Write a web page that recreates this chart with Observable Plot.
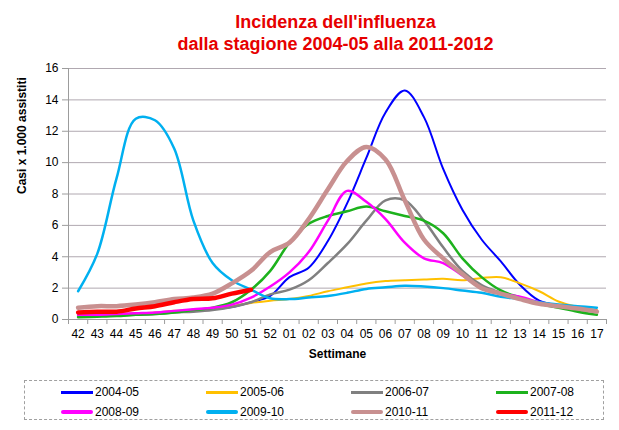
<!DOCTYPE html>
<html>
<head>
<meta charset="utf-8">
<script src="https://cdn.jsdelivr.net/npm/d3@7"></script>
<script src="https://cdn.jsdelivr.net/npm/@observablehq/plot@0.6"></script>
<style>
  html, body { margin: 0; padding: 0; background: #fff; }
  #wrap { position: relative; width: 619px; height: 430px; overflow: hidden; font-family: "Liberation Sans", Arial, sans-serif; }
  #title { position: absolute; top: 11px; left: 52px; right: 0; text-align: center; color: #e60000; font-weight: bold; font-size: 18px; line-height: 22px; }
  #chart { position: absolute; top: 56px; left: 0; }
  #legend { position: absolute; top: 380px; left: 24px; width: 580px; height: 40px; border: 1px dashed #a0a0a0; box-sizing: border-box; }
  .item { position: absolute; height: 14px; display: flex; align-items: center; font-size: 12px; color: #000; }
  .sw { width: 32px; margin-right: 2px; }
</style>
</head>
<body>
<div id="wrap">
  <div id="title">Incidenza dell'influenza<br>dalla stagione 2004-05 alla 2011-2012</div>
  <div id="chart"></div>
  <div id="legend"></div>
</div>
<script>
// Week labels (x categories)
const weeks = ["42","43","44","45","46","47","48","49","50","51","52","01","02","03","04","05","06","07","08","09","10","11","12","13","14","15","16","17"];

// Series values (cases per 1,000)
const s2004_05 = [0.2,0.25,0.3,0.35,0.4,0.5,0.55,0.65,0.8,1.1,1.5,2.7,3.3,5.0,7.4,10.3,13.2,14.6,12.9,9.6,7.0,5.1,3.7,2.2,1.2,0.9,0.7,0.5];
const s2005_06 = [0.3,0.3,0.35,0.4,0.45,0.55,0.6,0.7,0.85,1.05,1.2,1.3,1.5,1.8,2.05,2.3,2.45,2.5,2.55,2.6,2.5,2.65,2.7,2.3,1.8,1.15,0.8,0.6];
const s2006_07 = [0.2,0.22,0.25,0.3,0.35,0.45,0.5,0.6,0.8,1.1,1.6,1.9,2.5,3.6,4.8,6.3,7.6,7.6,6.3,4.6,3.1,2.2,1.7,1.3,1.0,0.8,0.6,0.5];
const s2007_08 = [0.15,0.18,0.22,0.3,0.35,0.45,0.6,0.75,1.1,1.9,3.1,4.9,6.1,6.6,6.9,7.2,6.9,6.6,6.3,5.5,3.9,2.7,1.85,1.4,1.0,0.75,0.5,0.3];
const s2008_09 = [0.3,0.3,0.35,0.4,0.45,0.55,0.65,0.75,0.95,1.4,2.1,3.0,4.3,6.3,8.2,7.5,6.4,4.9,3.9,3.6,2.8,2.0,1.65,1.45,1.1,0.9,0.7,0.55];
const s2009_10 = [1.8,4.2,9.0,12.8,12.7,10.9,6.3,3.6,2.5,1.9,1.35,1.3,1.4,1.5,1.7,1.95,2.05,2.15,2.1,2.0,1.85,1.7,1.45,1.3,1.1,0.95,0.85,0.75];
const s2010_11 = [0.75,0.85,0.85,0.95,1.1,1.3,1.4,1.65,2.3,3.1,4.3,4.9,6.4,8.3,10.1,11.0,10.2,7.6,5.1,3.9,2.9,2.0,1.65,1.3,1.0,0.85,0.7,0.5];
const s2011_12 = [0.45,0.5,0.5,0.7,0.85,1.1,1.3,1.35,1.65,1.9];

const seasons = ["2004-05","2005-06","2006-07","2007-08","2008-09","2009-10","2010-11","2011-12"];
const seriesValues = [s2004_05,s2005_06,s2006_07,s2007_08,s2008_09,s2009_10,s2010_11,s2011_12];
const colors = ["#0000ff","#ffc000","#808080","#1db21d","#ff00ff","#00b0f0","#c89090","#ff0000"];
const widths = [2,2,2.5,2.5,2.5,2.5,4.5,4.5];

const yTicks = [0,2,4,6,8,10,12,14,16];

const rows = [];
seriesValues.forEach((vals, s) => vals.forEach((v, i) => rows.push({season: seasons[s], i, v})));

const gridColor = "#b0a8b0";
const axisColor = "#9c9c9c";

const marks = [
  Plot.gridY(yTicks, {stroke: gridColor, strokeOpacity: 1}),
  Plot.ruleX([-0.5], {stroke: axisColor}),
  Plot.ruleY([0], {stroke: axisColor}),
  Plot.axisY(yTicks, {tickSize: 6, tickPadding: 4, stroke: axisColor, fontSize: 12, label: null}),
  Plot.axisX(d3.range(-0.5, weeks.length + 0.5, 1), {tickSize: 5, stroke: axisColor, tickFormat: () => "", label: null}),
  Plot.axisX(d3.range(weeks.length), {tickSize: 0, tickPadding: 10, fontSize: 12, tickFormat: i => weeks[i], label: null}),
  Plot.text(["Casi x 1.000 assistiti"], {frameAnchor: "left", dx: -46, rotate: -90, fontWeight: "bold", fontSize: 12}),
  Plot.text(["Settimane"], {frameAnchor: "bottom", dy: 38, fontWeight: "bold", fontSize: 12})
];
seasons.forEach((name, s) => {
  marks.push(Plot.line(rows.filter(r => r.season === name), {
    x: "i", y: "v", stroke: colors[s], strokeWidth: widths[s],
    curve: "catmull-rom", strokeLinecap: "round", strokeLinejoin: "round"
  }));
});

const chart = Plot.plot({
  width: 619,
  height: 316,
  marginTop: 12,
  marginBottom: 53,
  marginLeft: 68,
  marginRight: 13,
  style: {fontFamily: "'Liberation Sans', Arial, sans-serif", fontSize: "12px", color: "#000", background: "transparent"},
  x: {type: "linear", domain: [-0.5, weeks.length - 0.5], axis: null},
  y: {domain: [0, 16], axis: null},
  marks
});
document.getElementById("chart").appendChild(chart);

// Legend
const legend = document.getElementById("legend");
const colX = [36, 181, 326, 471];
const rowY = [4, 24];
seasons.forEach((name, s) => {
  const it = document.createElement("div");
  it.className = "item";
  it.style.left = colX[s % 4] + "px";
  it.style.top = rowY[Math.floor(s / 4)] + "px";
  const sw = document.createElement("div");
  sw.className = "sw";
  const thick = s >= 4 ? 4 : 3;
  sw.style.height = thick + "px";
  sw.style.background = colors[s];
  if (s >= 4) sw.style.borderRadius = "2px";
  const tx = document.createElement("span");
  tx.textContent = name;
  it.appendChild(sw);
  it.appendChild(tx);
  legend.appendChild(it);
});
</script>
</body>
</html>
